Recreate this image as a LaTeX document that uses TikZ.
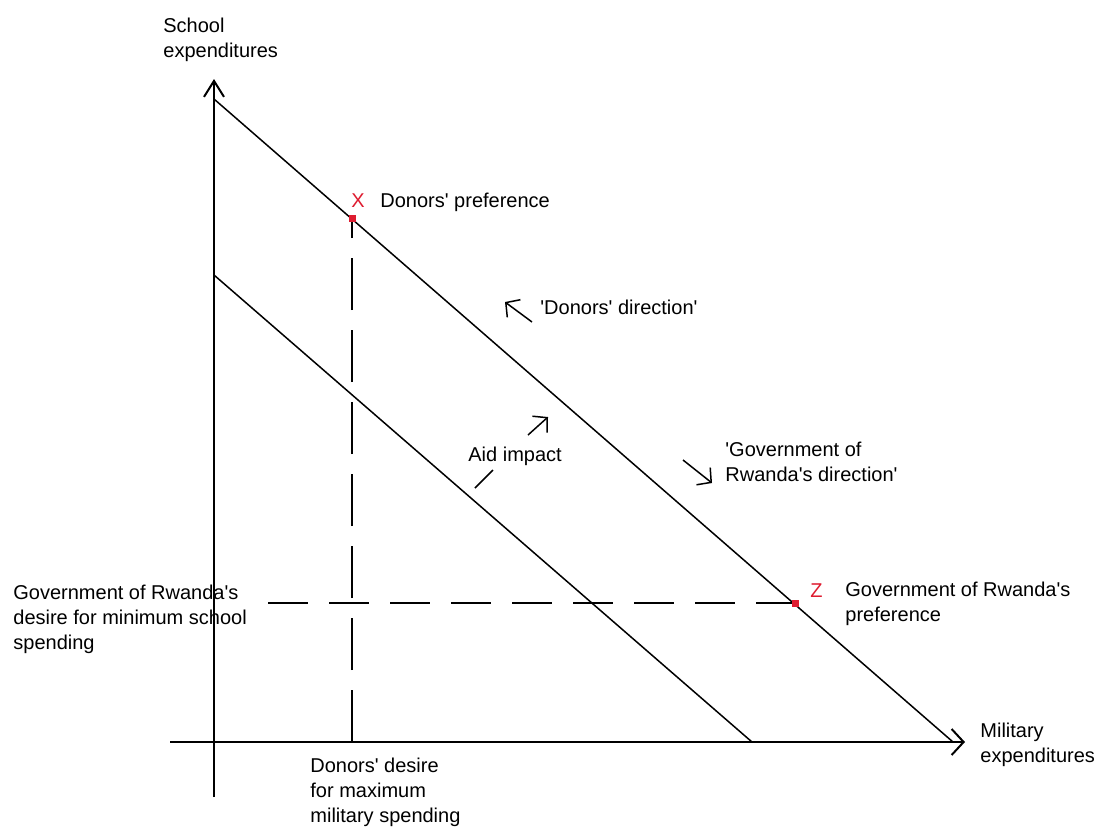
\documentclass[tikz,border=0pt]{standalone}
\usepackage{fontspec}
\setmainfont{Liberation Sans}[Ligatures=TeXOff]
\usepackage{tikz}
\usetikzlibrary{arrows.meta,calc}
\definecolor{markred}{RGB}{222,28,48}

\begin{document}
\begin{tikzpicture}[x=0.5pt,y=-0.5pt,
	lbl/.style={anchor=north west,inner sep=0pt,align=left,font=\fontsize{10}{12.3}\selectfont},
	axis/.style={line width=1pt},
	budget/.style={line width=0.75pt},
	guide/.style={line width=1pt,dash pattern=on 26pt off 10pt},
	guideh/.style={line width=1pt,dash pattern=on 20pt off 10.5pt},
	dir/.style={line width=0.75pt,-{Straight Barb[length=5pt,width=11pt]}},
	prefpt/.style={fill=markred,inner sep=0pt,minimum size=3.5pt}]
\useasboundingbox (0,0) rectangle (1099,826);
%axes
\coordinate (O) at (214,742);
\coordinate (ytop) at (214,79);
\coordinate (ybot) at (214,797);
\coordinate (xleft) at (170,742);
\coordinate (xtip) at (965,742);
\draw[axis,-{Straight Barb[length=8pt,width=10pt]}] (ybot) -- (ytop);
\draw[axis,-{Straight Barb[length=6pt,width=13pt]}] (xleft) -- (xtip);
\path (163,18) node[lbl] (ylab) {School\\expenditures};
\path (980,723) node[lbl] (xlab) {Military\\expenditures};
%budget lines
\coordinate (a1) at (214,99);
\coordinate (a2) at (953,742);
\coordinate (b1) at (214,275);
\coordinate (b2) at (752,742);
\draw[budget] (a1) -- (a2);
\draw[budget] (b1) -- (b2);
%preferences
\coordinate (X) at (352,218);
\coordinate (Z) at (795,603);
\coordinate (zl) at (268,603);
\draw[guide] (X |- O) -- (X);
\draw[guideh] (zl) -- (Z);
\path (X) node[prefpt] (xpt) {};
\path (Z) node[prefpt] (zpt) {};
\path (351,193) node[lbl,text=markred] (xname) {X};
\path (810,583) node[lbl,text=markred] (zname) {Z};
\path (380,193) node[lbl] (dpref) {Donors' preference};
\path (845,582) node[lbl] (gpref) {Government of Rwanda's\\preference};
\path (13,585) node[lbl] (gmin) {Government of Rwanda's\\desire for minimum school\\spending};
\path (310,758) node[lbl] (dmax) {Donors' desire\\for maximum\\military spending};
%directions
\path (540,300) node[lbl] (ddir) {'Donors' direction'};
\draw[dir] ([shift={(-8,22)}]ddir.north west) -- ++(-27,-20);
\path (725,442) node[lbl] (gdir) {'Government of\\Rwanda's direction'};
\draw[dir] ([shift={(-42,18)}]gdir.north west) -- ++(29,23);
%aid
\path (468,447) node[lbl] (aid) {Aid impact};
\draw[dir] ([shift={(60,-12)}]aid.north west) -- ++(20,-18);
\draw[budget] ([shift={(7,41)}]aid.north west) -- ++(18,-18);
\end{tikzpicture}
\end{document}
